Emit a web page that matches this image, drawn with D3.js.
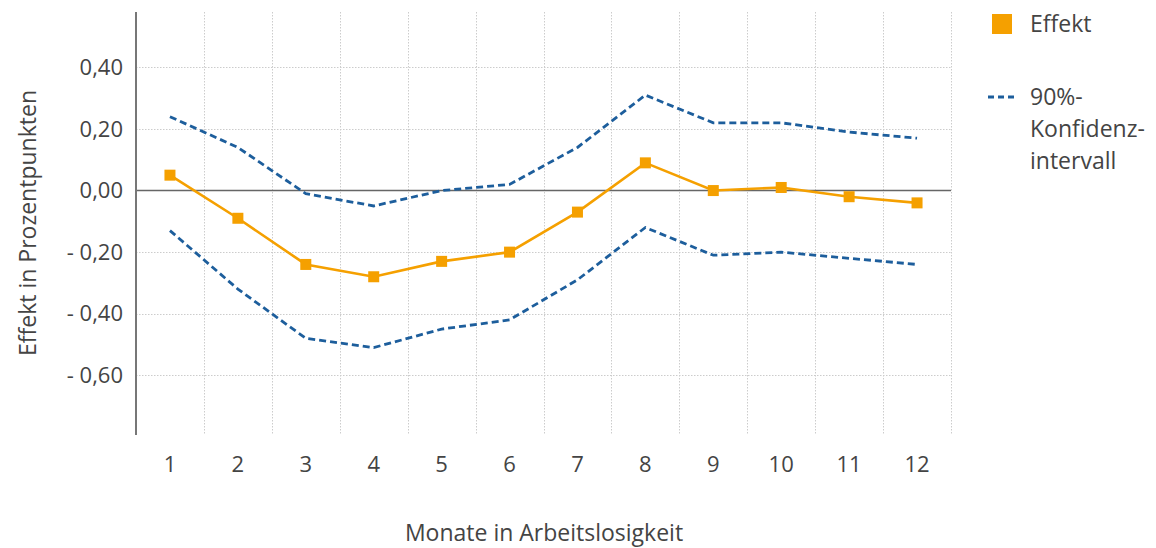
<!DOCTYPE html>
<meta charset="utf-8">
<style>
    body { margin: 0; background: #fff; }
    text { font-family: "Open Sans", "Noto Sans", sans-serif; fill: #444; }
    .grid line { stroke: #ccc; stroke-dasharray: 1.5,1.5; stroke-width: 1px; }
    .tick-label { font-size: 22px; }
    .title { font-size: 23px; }
</style>
<svg id="svg" width="1156" height="548"></svg>
<script src="https://d3js.org/d3.v7.min.js"></script>
<script>
var months = [1, 2, 3, 4, 5, 6, 7, 8, 9, 10, 11, 12];
var effekt = [0.05, -0.09, -0.24, -0.28, -0.23, -0.20, -0.07, 0.09, 0.00, 0.01, -0.02, -0.04];
var upper = [0.24, 0.14, -0.01, -0.05, 0.00, 0.02, 0.14, 0.31, 0.22, 0.22, 0.19, 0.17];
var lower = [-0.13, -0.32, -0.48, -0.51, -0.45, -0.42, -0.29, -0.12, -0.21, -0.20, -0.22, -0.24];
var yTicks = [0.4, 0.2, 0, -0.2, -0.4, -0.6];

var svg = d3.select("#svg");
var pLeft = 136, pRight = 951, pTop = 12, pBottom = 435;

var x = d3.scaleBand().domain(months).range([pLeft, pRight]);
var y = d3.scaleLinear().domain([-0.794, 0.58]).range([pBottom, pTop]);

var fmt = function(v) {
    var s = Math.abs(v).toFixed(2).replace(".", ",");
    return v < -0.001 ? "- " + s : s;
};

// gridlines
var grid = svg.append("g").attr("class", "grid");
grid.selectAll(".h").data(yTicks.filter(function(d) { return d !== 0; }))
    .enter().append("line")
    .attr("x1", pLeft).attr("x2", pRight)
    .attr("y1", function(d) { return Math.round(y(d)) + 0.5; })
    .attr("y2", function(d) { return Math.round(y(d)) + 0.5; });
grid.selectAll(".v").data(months)
    .enter().append("line")
    .attr("x1", function(d) { return Math.round(x(d) + x.bandwidth()) + 0.5; })
    .attr("x2", function(d) { return Math.round(x(d) + x.bandwidth()) + 0.5; })
    .attr("y1", pTop).attr("y2", pBottom);

// zero line
svg.append("line")
    .attr("x1", pLeft).attr("x2", pRight)
    .attr("y1", y(0)).attr("y2", y(0))
    .attr("stroke", "#666").attr("stroke-width", 1.5);

// y axis line
svg.append("line")
    .attr("x1", pLeft).attr("x2", pLeft)
    .attr("y1", pTop).attr("y2", pBottom)
    .attr("stroke", "#777").attr("stroke-width", 2);

// y tick labels
svg.selectAll(".ylab").data(yTicks).enter().append("text")
    .attr("class", "tick-label")
    .attr("x", pLeft - 13)
    .attr("y", function(d) { return y(d); })
    .attr("dy", "0.35em")
    .attr("text-anchor", "end")
    .text(fmt);

// x tick labels
svg.selectAll(".xlab").data(months).enter().append("text")
    .attr("class", "tick-label")
    .attr("x", function(d) { return x(d) + x.bandwidth() / 2; })
    .attr("y", 472)
    .attr("text-anchor", "middle")
    .text(function(d) { return d; });

// axis titles
svg.append("text")
    .attr("class", "title")
    .attr("x", 544).attr("y", 541)
    .attr("text-anchor", "middle")
    .text("Monate in Arbeitslosigkeit");
svg.append("text")
    .attr("class", "title")
    .attr("transform", "translate(36,223) rotate(-90)")
    .attr("text-anchor", "middle")
    .text("Effekt in Prozentpunkten");

var cx = function(d, i) { return x(months[i]) + x.bandwidth() / 2; };
var line = d3.line().x(function(d, i) { return cx(d, i); }).y(function(d) { return y(d); });

var blue = "#1d5e9c", orange = "#f5a000";

[upper, lower].forEach(function(s) {
    svg.append("path").datum(s)
        .attr("d", line)
        .attr("fill", "none")
        .attr("stroke", blue)
        .attr("stroke-width", 2.8)
        .attr("stroke-dasharray", "7,4");
});

svg.append("path").datum(effekt)
    .attr("d", line)
    .attr("fill", "none")
    .attr("stroke", orange)
    .attr("stroke-width", 2.6);

svg.selectAll(".pt").data(effekt).enter().append("rect")
    .attr("x", function(d, i) { return cx(d, i) - 5.5; })
    .attr("y", function(d) { return y(d) - 5.5; })
    .attr("width", 11).attr("height", 11)
    .attr("fill", orange);

// legend
svg.append("rect").attr("x", 992).attr("y", 14).attr("width", 20).attr("height", 20).attr("fill", orange);
svg.append("text").attr("class", "title").attr("x", 1030).attr("y", 32).text("Effekt");
svg.append("line").attr("x1", 988).attr("x2", 1017).attr("y1", 97).attr("y2", 97)
    .attr("stroke", blue).attr("stroke-width", 2.8).attr("stroke-dasharray", "6,4");
var lt = svg.append("text").attr("class", "title").attr("x", 1030).attr("y", 105);
["90%-", "Konfidenz-", "intervall"].forEach(function(t, i) {
    lt.append("tspan").attr("x", 1030).attr("dy", i === 0 ? 0 : 32).text(t);
});
</script>
